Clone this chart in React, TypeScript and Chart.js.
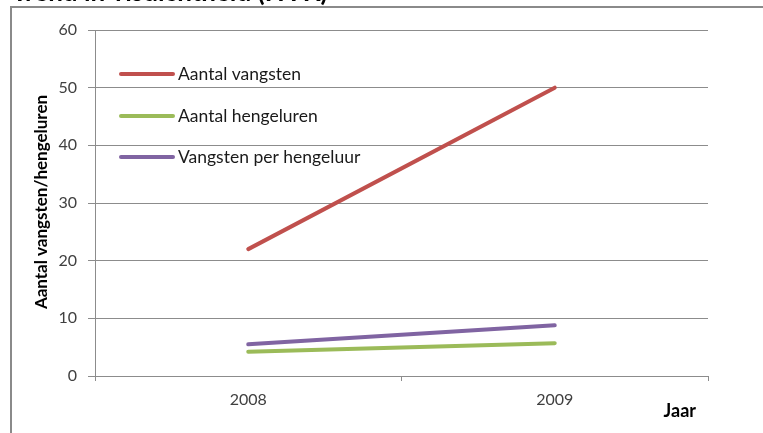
import React, { useEffect, useRef } from "react";
import { Chart, registerables } from "chart.js";

Chart.register(...registerables);

const years = ["2008", "2009"];
const aantalVangsten = [22, 50];
const aantalHengeluren = [4.2, 5.7];
const vangstenPerHengeluur = [5.5, 8.8];
const seriesLabels = ["Aantal vangsten", "Aantal hengeluren", "Vangsten per hengeluur"];
const seriesColors = ["#C0504D", "#9BBB59", "#8064A2"];
const chartTitle = "Trend in visdichtheid (HVK)";
const yTitle = "Aantal vangsten/hengeluren";
const xTitle = "Jaar";

const FONT = "Lato, 'Open Sans', sans-serif";
const GRID = "#8c8c8c";

const decorPlugin = {
  id: "decor",
  beforeDraw(chart: any) {
    const ctx = chart.ctx;
    ctx.save();
    ctx.fillStyle = "#ffffff";
    ctx.fillRect(0, 0, chart.width, chart.height);
    // title (cut off at top)
    ctx.fillStyle = "#000";
    ctx.font = `bold 26px ${FONT}`;
    ctx.textAlign = "left";
    ctx.textBaseline = "alphabetic";
    ctx.fillText(chartTitle, 12, 1);
    // outer frame (left + top edges)
    ctx.strokeStyle = "#8a8a8a";
    ctx.lineWidth = 2;
    ctx.beginPath();
    ctx.moveTo(11, chart.height + 5);
    ctx.lineTo(11, 7);
    ctx.lineTo(chart.width + 5, 7);
    ctx.stroke();
    ctx.restore();
  },
  afterDraw(chart: any) {
    const ctx = chart.ctx;
    const area = chart.chartArea;
    ctx.save();
    // y title
    ctx.fillStyle = "#000";
    ctx.font = `bold 17px ${FONT}`;
    ctx.translate(42, (area.top + area.bottom) / 2 - 1);
    ctx.rotate(-Math.PI / 2);
    ctx.textAlign = "center";
    ctx.textBaseline = "middle";
    ctx.fillText(yTitle, 0, 0);
    ctx.restore();
    ctx.save();
    ctx.fillStyle = "#000";
    ctx.font = `bold 18px ${FONT}`;
    ctx.textAlign = "right";
    ctx.textBaseline = "middle";
    ctx.fillText(xTitle, area.right - 12, 411);
    ctx.restore();
    // legend
    ctx.save();
    const ys = [74, 116, 157];
    chart.data.datasets.forEach((ds: any, i: number) => {
      ctx.strokeStyle = ds.borderColor;
      ctx.lineWidth = 4;
      ctx.lineCap = "round";
      ctx.beginPath();
      ctx.moveTo(area.left + 26, ys[i]);
      ctx.lineTo(area.left + 78, ys[i]);
      ctx.stroke();
      ctx.fillStyle = "#1a1a1a";
      ctx.font = `17.5px ${FONT}`;
      ctx.textAlign = "left";
      ctx.textBaseline = "middle";
      ctx.fillText(ds.label, area.left + 83, ys[i]);
    });
    ctx.restore();
  },
};

export default function App() {
  const ref = useRef<HTMLCanvasElement | null>(null);
  useEffect(() => {
    document.body.style.margin = "0";
    const canvas = ref.current!;
    const datasets = [aantalVangsten, aantalHengeluren, vangstenPerHengeluur].map((d, i) => ({
      label: seriesLabels[i],
      data: d,
      borderColor: seriesColors[i],
      backgroundColor: seriesColors[i],
      borderWidth: 4,
      borderCapStyle: "round" as const,
      pointRadius: 0,
      tension: 0,
      fill: false,
    }));
    const chart = new Chart(canvas, {
      type: "line",
      data: { labels: years, datasets },
      options: {
        animation: false,
        responsive: false,
        maintainAspectRatio: false,
        layout: { padding: { left: 0, top: 30, right: 55, bottom: 0 } },
        plugins: { legend: { display: false }, tooltip: { enabled: false }, title: { display: false } },
        scales: {
          x: {
            offset: true,
            grid: { drawOnChartArea: false, drawTicks: true, tickLength: 5, color: GRID, offset: true },
            border: { display: true, color: GRID, width: 1 },
            ticks: { color: "#404040", font: { family: FONT, size: 16 }, padding: 9, maxRotation: 0 },
            afterFit: (s: any) => { s.height = 57; },
          },
          y: {
            min: 0,
            max: 60,
            ticks: { stepSize: 10, color: "#404040", font: { family: FONT, size: 16 }, padding: 11 },
            grid: { color: GRID, tickLength: 7, drawTicks: true },
            border: { display: true, color: GRID, width: 1 },
            afterFit: (s: any) => { s.width = 95; },
          },
        },
      },
      plugins: [decorPlugin],
    });
    return () => chart.destroy();
  }, []);
  return (
    <div style={{ width: 763, height: 433, overflow: "hidden" }}>
      <canvas ref={ref} width={763} height={433} style={{ display: "block" }} />
    </div>
  );
}
